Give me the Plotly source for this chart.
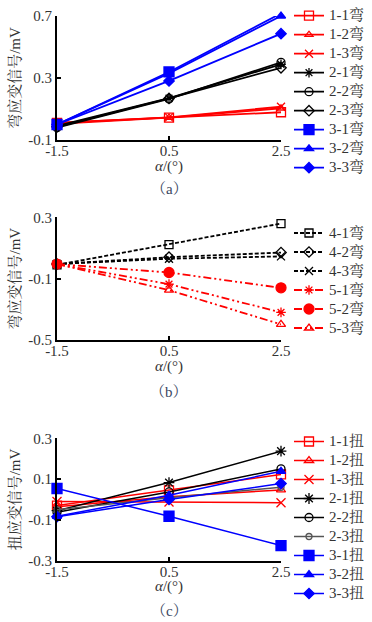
import plotly.graph_objects as go

x_vals = [-1.5, 0.5, 2.5]

# Panel (a) bending strain signals (mV)
a_names = ["1-1弯", "1-2弯", "1-3弯", "2-1弯", "2-2弯", "2-3弯", "3-1弯", "3-2弯", "3-3弯"]
a_11 = [0.01, 0.045, 0.079]
a_12 = [0.005, 0.045, 0.105]
a_13 = [0.01, 0.046, 0.115]
a_21 = [-0.01, 0.17, 0.388]
a_22 = [-0.02, 0.165, 0.401]
a_23 = [-0.015, 0.168, 0.366]
a_31 = [0.0, 0.339, 0.717]
a_32 = [0.0, 0.33, 0.70]
a_33 = [0.0, 0.281, 0.586]

# Panel (b)
b_names = ["4-1弯", "4-2弯", "4-3弯", "5-1弯", "5-2弯", "5-3弯"]
b_41 = [-0.01, 0.122, 0.259]
b_42 = [-0.005, 0.04, 0.07]
b_43 = [-0.005, 0.03, 0.045]
b_51 = [-0.005, -0.136, -0.32]
b_52 = [-0.005, -0.06, -0.16]
b_53 = [-0.005, -0.175, -0.398]

# Panel (c) torsion strain signals (mV)
c_names = ["1-1扭", "1-2扭", "1-3扭", "2-1扭", "2-2扭", "2-3扭", "3-1扭", "3-2扭", "3-3扭"]
c_11 = [-0.03, 0.045, 0.123]
c_12 = [-0.035, 0.014, 0.047]
c_13 = [-0.01, -0.012, -0.016]
c_21 = [-0.055, 0.083, 0.237]
c_22 = [-0.062, 0.037, 0.15]
c_23 = [-0.05, 0.009, 0.06]
c_31 = [0.054, -0.082, -0.226]
c_32 = [-0.082, 0.021, 0.138]
c_33 = [-0.084, 0.0, 0.078]

x_title = "<i>α</i>/(°)"
panel_labels = ["（a）", "（b）", "（c）"]

RED = "#ff0000"
BLUE = "#0000ff"
BLACK = "#000000"
GRAY = "#555555"
TXT = "#333333"
FONT = '"Liberation Serif", "Times New Roman", "Noto Serif CJK SC", "Noto Sans CJK SC", serif'

W, H = 372, 622
def px(v):
    return v / W
def py(v):
    return 1 - v / H

fig = go.Figure()

def lname(n):
    return '<span style="font-size:15px">%s</span>' % n

def add(xa, ya, leg, name, yv, color, symbol, size, width=1.6, dash="solid", lw_marker=1.3):
    fig.add_trace(go.Scatter(
        x=x_vals, y=yv, name=lname(name), mode="lines+markers",
        xaxis=xa, yaxis=ya, legend=leg, cliponaxis=False,
        line=dict(color=color, width=width, dash=dash),
        marker=dict(symbol=symbol, size=size, color=color,
                    line=dict(color=color, width=lw_marker)),
    ))

# (a)
a_series = [a_11, a_12, a_13, a_21, a_22, a_23, a_31, a_32, a_33]
a_style = [
    (RED, "square-open", 9), (RED, "triangle-up-open", 7), (RED, "x-thin-open", 8),
    (BLACK, "asterisk-open", 8), (BLACK, "circle-open", 8), (BLACK, "diamond-open", 8),
    (BLUE, "square", 10), (BLUE, "triangle-up", 8), (BLUE, "diamond", 8),
]
for n, s, (c, sym, sz) in zip(a_names, a_series, a_style):
    add("x", "y", "legend", n, s, c, sym, sz, width=1.8)

# (b)
b_series = [b_41, b_42, b_43, b_51, b_52, b_53]
dd = "8px,3px,2px,3px,2px,3px"
b_style = [
    (BLACK, "square-open", 8, "4px,2px"), (BLACK, "diamond-open", 8, "4px,2px"),
    (BLACK, "x-thin-open", 8, "4px,2px"),
    (RED, "asterisk-open", 8, dd), (RED, "circle", 10, dd), (RED, "triangle-up-open", 8, dd),
]
for n, s, (c, sym, sz, d) in zip(b_names, b_series, b_style):
    add("x2", "y2", "legend2", n, s, c, sym, sz, width=1.8, dash=d)

# (c)
c_series = [c_11, c_12, c_13, c_21, c_22, c_23, c_31, c_32, c_33]
c_style = [
    (RED, "square-open", 9), (RED, "triangle-up-open", 8), (RED, "x-thin-open", 9),
    (BLACK, "asterisk-open", 9), (BLACK, "circle-open", 8), (GRAY, "circle-open", 6),
    (BLUE, "square", 10), (BLUE, "triangle-up", 8), (BLUE, "diamond", 8),
]
for n, s, (c, sym, sz) in zip(c_names, c_series, c_style):
    add("x3", "y3", "legend3", n, s, c, sym, sz, width=1.5)

tickfont = dict(family=FONT, size=15, color=TXT)
def xaxis(anchor):
    return dict(domain=[px(57), px(281)], range=[-1.5, 2.5], anchor=anchor,
                automargin=False,
                tickvals=x_vals, ticktext=["-1.5", "0.5", "2.5"],
                showline=True, linecolor="black", linewidth=2,
                ticks="inside", ticklen=4, tickwidth=2, tickcolor="black",
                ticklabelstandoff=-4,
                showgrid=False, zeroline=False, tickfont=tickfont)

def yaxis(anchor, dom, rng, tv, title):
    return dict(domain=dom, range=rng, anchor=anchor,
                automargin=False,
                tickvals=tv, ticktext=[("%.1f" % v) for v in tv],
                showline=True, linecolor="black", linewidth=2,
                ticks="inside", ticklen=4, tickwidth=2, tickcolor="black",
                showgrid=False, zeroline=False, tickfont=tickfont,
                title=dict(text=title, font=dict(family=FONT, size=15, color=TXT), standoff=4))

a_ticks = [-0.1, 0.3, 0.7]
b_ticks = [-0.5, -0.1, 0.3]
c_ticks = [-0.3, -0.1, 0.1, 0.3]

legfont = dict(family=FONT, size=12, color=TXT)
def leg(center):
    return dict(x=px(289), xanchor="left", y=py(center), yanchor="middle",
                font=legfont, bgcolor="rgba(0,0,0,0)", borderwidth=0,
                tracegroupgap=0, itemwidth=30)

annots = []
for lab, ty, ly in zip(panel_labels, [166, 366, 586.5], [189, 392, 611]):
    annots.append(dict(text=x_title, x=px(169), y=py(ty), xref="paper", yref="paper",
                       xanchor="center", yanchor="middle",
                       showarrow=False, font=dict(family=FONT, size=15, color=TXT)))
    annots.append(dict(text=lab, x=px(169), y=py(ly), xref="paper", yref="paper",
                       xanchor="center", yanchor="middle",
                       showarrow=False, font=dict(family=FONT, size=15, color="#3a4660")))

fig.update_layout(
    template="none",
    width=W, height=H,
    margin=dict(l=0, r=0, t=0, b=0, autoexpand=False),
    paper_bgcolor="white", plot_bgcolor="white",
    font=dict(family=FONT, color=TXT),
    showlegend=True,
    xaxis=xaxis("y"),
    xaxis2=xaxis("y2"),
    xaxis3=xaxis("y3"),
    yaxis=yaxis("x", [py(140), py(16)], [-0.1, 0.7], a_ticks, "弯应变信号/mV"),
    yaxis2=yaxis("x2", [py(340), py(217.3)], [-0.5, 0.3], b_ticks, "弯应变信号/mV"),
    yaxis3=yaxis("x3", [py(560.7), py(438.3)], [-0.3, 0.3], c_ticks, "扭应变信号/mV"),
    legend=leg(91.7),
    legend2=leg(280.5),
    legend3=leg(517.5),
    annotations=annots,
)

fig.write_html("out.html", config={"displayModeBar": False},
               post_script="document.body.style.margin='0';")
